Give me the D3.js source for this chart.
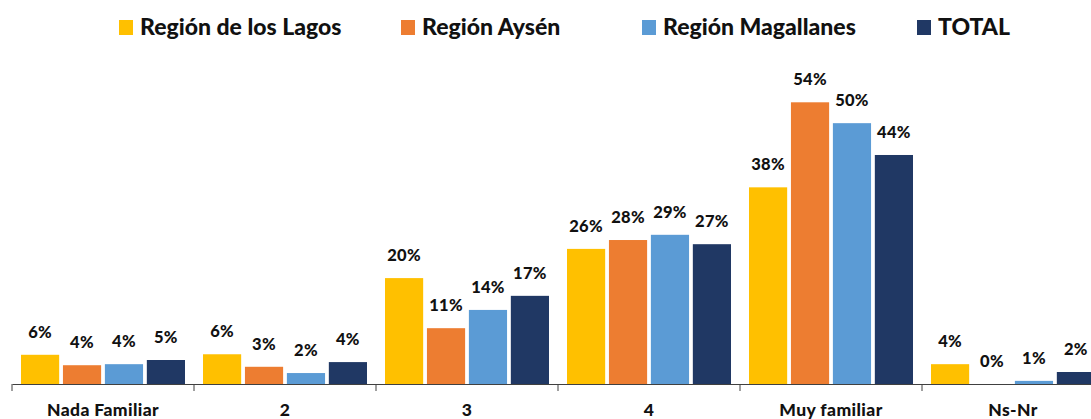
<!DOCTYPE html>
<head>
  <meta charset="utf-8">
  <style>
    body { margin: 0; background: #fff; }
    svg { display: block; font-family: Lato, "Open Sans", sans-serif; font-weight: 900; }
    .lbl { font-size: 16.5px; text-anchor: middle; fill: #111; letter-spacing: 0.3px; }
    .legend text { font-size: 23px; fill: #111; }
    .xaxis text { font-size: 17.5px; font-weight: 900; fill: #111; font-family: Lato, sans-serif; letter-spacing: 0.4px; }
  </style>
</head>
<body>
  <svg width="1091" height="419"></svg>
  <script src="https://d3js.org/d3.v7.min.js"></script>
  <script>

  var categories = ["Nada Familiar", "2", "3", "4", "Muy familiar", "Ns-Nr"];
  var seriesNames = ["Región de los Lagos", "Región Aysén", "Región Magallanes", "TOTAL"];
  var colors = ["#FFC000", "#ED7D31", "#5B9BD5", "#203864"];

  // percentages
  var lagos      = [5.6, 5.7, 20.3, 25.9, 37.7, 3.8];
  var aysen      = [3.6, 3.3, 10.7, 27.6, 54.0, 0];
  var magallanes = [3.8, 2.1, 14.2, 28.6, 50.0, 0.6];
  var total      = [4.6, 4.2, 16.9, 26.8, 43.9, 2.3];
  var series = [lagos, aysen, magallanes, total];

  var svg = d3.select("svg"),
      baseY = 384;

  var x = d3.scaleBand()
      .domain(categories)
      .range([12, 12 + 182 * categories.length]);

  var xi = d3.scaleBand()
      .domain(d3.range(series.length))
      .range([9, 173])
      .paddingInner(0.09);

  var y = d3.scaleLinear()
      .domain([0, 60])
      .range([baseY, baseY - 313]);

  // bars
  var groups = svg.selectAll(".grp")
    .data(categories)
    .enter().append("g")
      .attr("class", "grp")
      .attr("transform", function(d) { return "translate(" + x(d) + ",0)"; });

  groups.each(function(c, ci) {
    var g = d3.select(this);
    var vals = series.map(function(s) { return s[ci]; });

    g.selectAll("rect")
      .data(vals)
      .enter().append("rect")
        .attr("x", function(d, i) { return xi(i); })
        .attr("width", xi.bandwidth())
        .attr("y", function(d) { return y(d); })
        .attr("height", function(d) { return baseY - y(d); })
        .attr("fill", function(d, i) { return colors[i]; });

    g.selectAll("text")
      .data(vals)
      .enter().append("text")
        .attr("class", "lbl")
        .attr("x", function(d, i) { return xi(i) + xi.bandwidth() / 2; })
        .attr("y", function(d) { return y(d) - 17; })
        .text(function(d) { return Math.round(d) + "%"; });
  });

  // x axis: labels centred, ticks on category boundaries
  var xaxis = svg.append("g")
      .attr("class", "xaxis")
      .attr("transform", "translate(0," + baseY + ")")
      .call(d3.axisBottom(x).tickSize(0).tickSizeOuter(0).tickPadding(20));

  xaxis.select(".domain").attr("stroke", "#404040");

  xaxis.selectAll(".bound")
    .data(categories.concat([null]))
    .enter().append("line")
      .attr("class", "bound")
      .attr("x1", function(d) { return d === null ? x.range()[1] : x(d); })
      .attr("x2", function(d) { return d === null ? x.range()[1] : x(d); })
      .attr("y1", 0)
      .attr("y2", 7)
      .attr("stroke", "#404040");

  // legend, item starts as laid out in the original
  var legendX = [119, 401, 642, 917];
  var legend = svg.append("g").attr("class", "legend");
  seriesNames.forEach(function(name, i) {
    legend.append("rect")
        .attr("x", legendX[i]).attr("y", 20)
        .attr("width", 14).attr("height", 15)
        .attr("fill", colors[i]);
    legend.append("text")
        .attr("x", legendX[i] + 21).attr("y", 35)
        .text(name);
  });

  </script>
</body>
</html>
